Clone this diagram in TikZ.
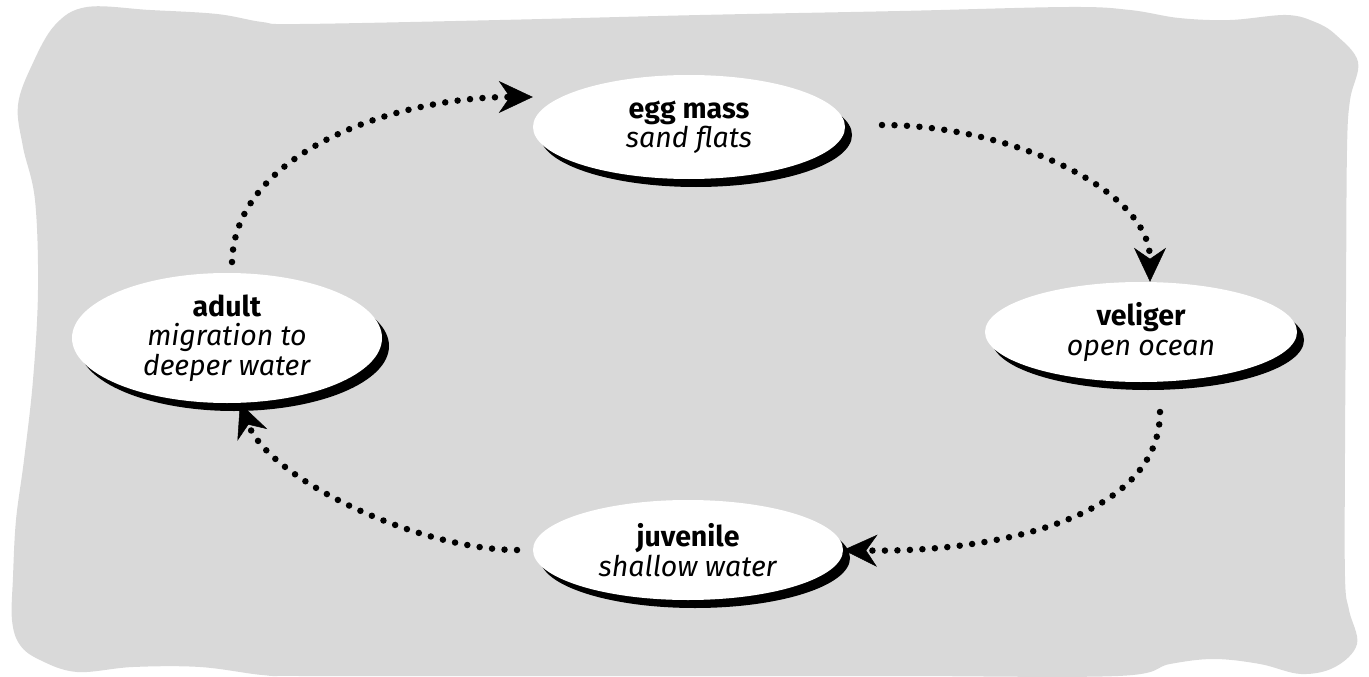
\documentclass[tikz,border=0pt]{standalone}
\usepackage{fontspec}
\setmainfont{Fira Sans}
\usetikzlibrary{shapes.geometric,arrows.meta,shadows}
\definecolor{bggray}{HTML}{D9D9D9}
\begin{document}
\begin{tikzpicture}[x=1pt,y=-1pt,
  stage/.style={ellipse, fill=white, inner sep=0pt, align=center,
    font=\fontsize{28.5}{29.5}\selectfont,
    drop shadow={shadow xshift=7pt, shadow yshift=-8pt, fill=black, opacity=1}},
  cyc/.style={line width=6.5pt, line cap=round, dash pattern=on 0pt off 12.5pt,
    -{Stealth[length=34pt,width=32pt,inset=11pt,line width=0.5pt]}}]
\useasboundingbox (0,0) rectangle (1369,677);
% background
\fill[bggray] plot[smooth cycle, tension=0.6] coordinates {
  (87,7) (150,10) (217,14) (262,22) (300,24) (500,20) (700,15) (900,11) (1069,7)
  (1130,10) (1179,18) (1230,20) (1286,15) (1315,22) (1336,35) (1358,62)
  (1350,100) (1347,150) (1346,300) (1345,450) (1345,577) (1349,610) (1357,644)
  (1335,667) (1301,674) (1260,664) (1214,659) (1170,664) (1118,676)
  (900,676) (700,676) (500,676) (300,676) (262,675) (200,667) (133,667)
  (77,672) (40,660) (20,645) (12,620) (13,577) (16,520) (24,460) (33,380)
  (38,290) (35,200) (23,147) (18,105) (32,65) (55,25) };
% stages
\node[stage, minimum width=312pt, minimum height=104pt] (egg) at (689,127)
  {\textbf{egg mass}\\\textit{sand flats}};
\node[stage, minimum width=312pt, minimum height=100pt] (vel) at (1141,332)
  {\textbf{veliger}\\\textit{open ocean}};
\node[stage, minimum width=310pt, minimum height=100pt] (juv) at (688,550)
  {\textbf{juvenile}\\\textit{shallow water}};
\node[stage, minimum width=310pt, minimum height=130pt] (adu) at (227,338)
  {\textbf{adult}\\\textit{migration to}\\\textit{deeper water}};
% cycle connectors
\coordinate (a1) at (232,262);
\coordinate (e1) at (882,125);
\coordinate (v1) at (1160,412);
\coordinate (j1) at (517,550);
\draw[cyc] (a1) .. controls (235,150) and (400,97) .. (egg.west |- 0,97);
\draw[cyc] (e1) .. controls (1010,125) and (1150,190) .. (vel.north -| 1150,0);
\draw[cyc] (v1) .. controls (1160,520) and (990,553) .. (juv.east);
\draw[cyc] (j1) .. controls (420,550) and (270,480) .. (adu.south -| 240,0);
\end{tikzpicture}
\end{document}
